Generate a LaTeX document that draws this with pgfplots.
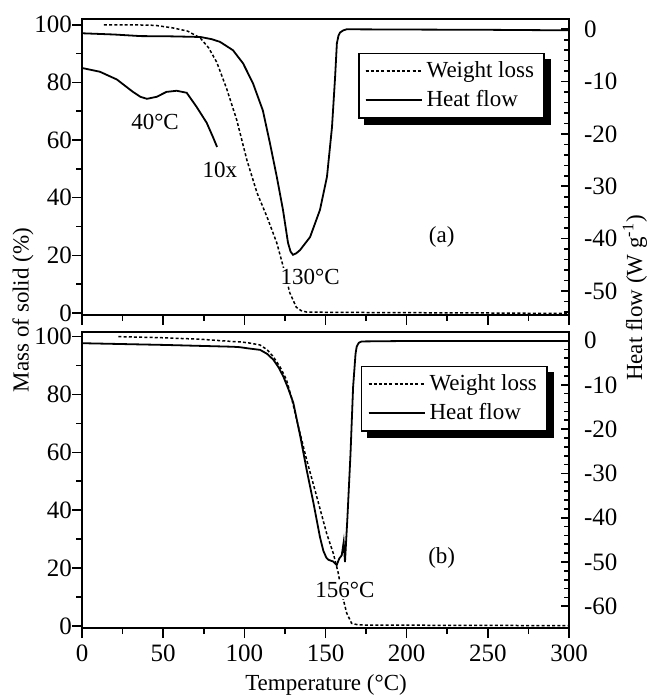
\documentclass[border=0pt]{standalone}
\usepackage{fontspec}
\setmainfont{Liberation Serif}
\usepackage{pgfplots}
\pgfplotsset{compat=1.18}
\usetikzlibrary{calc}

\pgfplotsset{
 panel/.style={scale only axis, width=243.5pt, xmin=0, xmax=300,
   axis line style={line width=0.9pt},
   every tick/.style={line width=0.8pt, black},
   tick label style={font=\fontsize{12.5}{14}\selectfont},
   /pgf/number format/assume math mode=true, anchor=south west, clip=false},
 leftax/.style={panel, xtick={0,50,...,300}, minor x tick num=1,
   ytick={0,20,...,100}, minor y tick num=1, xtick pos=bottom, ytick pos=left,
   tick align=outside, major tick length=5pt, minor tick length=3pt,
   yticklabel style={xshift=3.5pt}},
 rightax/.style={panel, hide x axis, axis y line*=right, ytick={-60,-50,...,0},
   minor y tick num=4, tick align=inside, major tick length=4pt, minor tick length=2.5pt,
   yticklabel style={xshift=4pt},
   legend cell align=left,
   legend style={draw=black, line width=0.7pt, fill=white, anchor=north west,
     font=\fontsize{11.5}{13}\selectfont, row sep=1pt},
   legend image code/.code={\draw[#1] (0pt,0pt)--(25pt,0pt); \path (0pt,0pt)--(28pt,0pt);}},
 wl/.style={black, line width=0.75pt, dash pattern=on 1.5pt off 1.1pt},
 hf/.style={black, line width=0.9pt},
}
\newcommand{\ann}{\fontsize{11.5}{13}\selectfont}

\begin{document}
\begin{tikzpicture}
\path[use as bounding box] (0,0) rectangle (324pt,350pt);

% ---------------- top panel (a) ----------------
\begin{axis}[leftax, at={(41pt,192.5pt)}, height=148pt, ymin=-0.7, ymax=102, xticklabels={}]
\addplot[wl] coordinates {
(13.5,100) (30,100) (45,99.8) (56,98.9) (65,97.8) (72.7,95.5) (78,92) (83,87) (89,78)
(95.3,67) (101.6,53) (107.8,41.7) (114,33.3) (120,24.3) (124,16) (128,7) (132,2)
(135,0.8) (138.6,0.3) (160,0.2) (200,0.1) (250,0) (300,-0.2)};
\addplot[hf] coordinates {
(0,85) (11,83.7) (21.5,81) (31.4,76.7) (36,75) (40,74.3) (46,75) (52,76.7) (58.3,77.1)
(64.5,76.4) (70.6,71.5) (76.8,66) (80.7,61) (83.2,57.6)};
\node[font=\ann] at (axis cs:45,66.4) {40°C};
\node[font=\ann] at (axis cs:85,49.7) {10x};
\node[font=\ann, fill=white, inner sep=0.5pt] at (axis cs:140.5,12.6) {130°C};
\node[font=\ann] at (axis cs:221.6,26.5) {(a)};
\end{axis}
\begin{axis}[rightax, at={(41pt,192.5pt)}, height=148pt, ymin=-54.6, ymax=1.97,
  legend style={at={(0.567,0.885)}, name=legA}]
\addlegendimage{wl}\addlegendentry{Weight loss}
\addplot[hf] coordinates {
(0,-0.76) (20,-1.0) (36,-1.3) (55,-1.35) (73,-1.47) (80,-1.9) (85,-2.4) (93,-4.0)
(99.2,-6.5) (105.3,-10.3) (111.4,-15.5) (115.8,-21.8) (120,-28.2) (123.8,-34.5)
(126.9,-40.8) (128.5,-42.5) (130,-43.1) (132,-42.8) (134.3,-42.2) (140.5,-39.7)
(146.6,-34.5) (150.9,-28.2) (154,-18.7) (155.9,-9.2) (157,-2.7) (158,-1.2) (159,-0.6)
(161,-0.2) (163,0) (200,-0.05) (250,-0.1) (300,-0.2)};
\addlegendentry{Heat flow}
\end{axis}

% ---------------- bottom panel (b) ----------------
\begin{axis}[leftax, at={(41pt,36pt)}, height=148.15pt, ymin=-0.7, ymax=101.7]
\addplot[wl] coordinates {
(22.4,100) (50,99.6) (72.7,99.1) (93,98.3) (97.3,98.2) (103,97.8) (109.7,97.1) (114,95.5)
(117.8,93.1) (122,89.5) (126,85) (129,79) (132.3,71.2) (138.4,57.4) (144.6,44.7)
(150.7,32) (154.8,25.1) (157.9,18.2) (160,11.3) (163.1,4.4) (166.1,0.9) (170,0.4)
(175.4,0.3) (250,0.2) (300,0.1)};
\node[font=\ann, fill=white, inner sep=0.5pt] at (axis cs:162,12.4) {156°C};
\node[font=\ann] at (axis cs:221.6,23.5) {(b)};
\end{axis}
\begin{axis}[rightax, at={(41pt,36pt)}, height=148.15pt, ymin=-64.9, ymax=2.0,
  legend style={at={(0.573,0.884)}, name=legB}]
\addlegendimage{wl}\addlegendentry{Weight loss}
\addplot[hf] coordinates {
(0,-0.6) (52,-1.0) (93,-1.4) (97.3,-1.5) (103,-1.8) (109.7,-2.1) (114,-3.0) (117.8,-4.3)
(121,-6.0) (124,-8.1) (127,-10.8) (130.2,-14.1) (134.5,-21.7) (138.4,-29.2) (142.6,-36.7)
(146.6,-44.4) (148.7,-47.5) (150.5,-49.0) (151.8,-49.5) (154.8,-49.9) (156.9,-50.7)
(158.5,-49.2) (160,-48.5) (161.2,-45.5) (162,-50) (163.5,-40) (165.4,-25.6) (167,-10.5)
(168.5,-3) (169.2,-1.4) (170.5,-0.5) (172.3,-0.2) (200,-0.1) (300,-0.1)};
\addlegendentry{Heat flow}
\end{axis}

% legend drop shadows
\foreach \L in {legA,legB}{
  \fill[black] ($(\L.south west)+(3pt,-3pt)$) rectangle ($(\L.south east)+(3pt,0pt)$);
  \fill[black] ($(\L.south east)+(0pt,-3pt)$) rectangle ($(\L.north east)+(3pt,-3pt)$);
}

% ---------------- shared axis labels ----------------
\node[rotate=90, font=\ann] at (11.5pt,195pt) {Mass of solid (\%)};
\node[rotate=90, font=\ann] at (317.5pt,201pt) {Heat flow (W g\textsuperscript{-1})};
\node[font=\ann] at (163pt,7.5pt) {Temperature (°C)};
\end{tikzpicture}
\end{document}
